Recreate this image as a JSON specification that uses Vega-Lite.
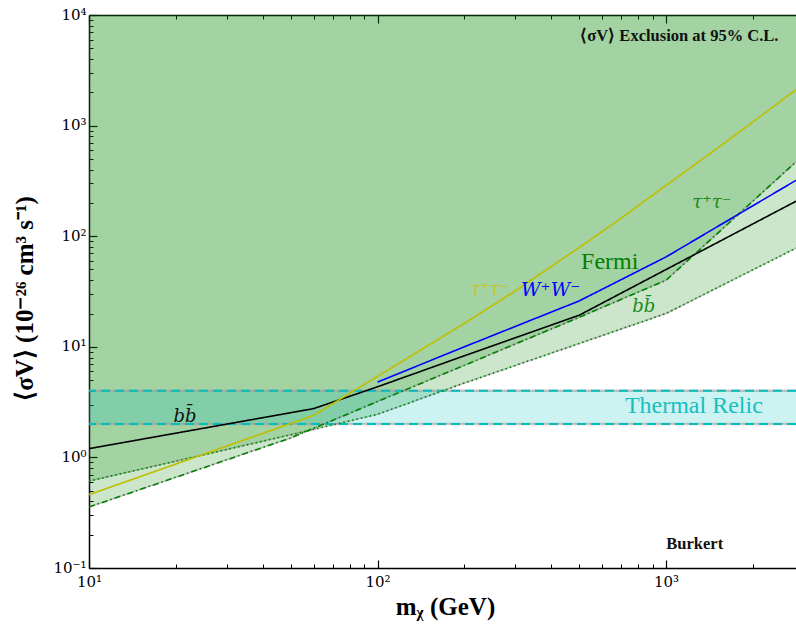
{
  "$schema": "https://vega.github.io/schema/vega-lite/v6.json",
  "width": 707,
  "height": 553,
  "autosize": {"type": "none"},
  "padding": {"left": 89, "top": 15, "right": 0, "bottom": 60},
  "background": "white",
  "config": {
    "view": {"stroke": null},
    "axis": {"grid": false, "labelFlush": false, "labelOverlap": false, "labelColor": "#000", "titleColor": "#000"}
  },
  "datasets": {
    "curves": [
      {"m": 10, "sv": 0.61, "curve": "fermi_bb"},
      {"m": 50, "sv": 1.6, "curve": "fermi_bb"},
      {"m": 100, "sv": 2.45, "curve": "fermi_bb"},
      {"m": 200, "sv": 4.7, "curve": "fermi_bb"},
      {"m": 500, "sv": 10.7, "curve": "fermi_bb"},
      {"m": 1000, "sv": 20, "curve": "fermi_bb"},
      {"m": 2820, "sv": 78, "curve": "fermi_bb"},
      {"m": 10, "sv": 0.356, "curve": "fermi_tt"},
      {"m": 50, "sv": 1.5, "curve": "fermi_tt"},
      {"m": 100, "sv": 3.2, "curve": "fermi_tt"},
      {"m": 200, "sv": 6.8, "curve": "fermi_tt"},
      {"m": 500, "sv": 18.5, "curve": "fermi_tt"},
      {"m": 1000, "sv": 40, "curve": "fermi_tt"},
      {"m": 2820, "sv": 470, "curve": "fermi_tt"},
      {"m": 10, "sv": 1.2, "curve": "bb"},
      {"m": 60, "sv": 2.76, "curve": "bb"},
      {"m": 100, "sv": 4.35, "curve": "bb"},
      {"m": 200, "sv": 8.3, "curve": "bb"},
      {"m": 500, "sv": 19.3, "curve": "bb"},
      {"m": 1000, "sv": 50, "curve": "bb"},
      {"m": 2820, "sv": 207, "curve": "bb"},
      {"m": 100, "sv": 4.8, "curve": "ww"},
      {"m": 200, "sv": 10, "curve": "ww"},
      {"m": 500, "sv": 26, "curve": "ww"},
      {"m": 1000, "sv": 65, "curve": "ww"},
      {"m": 2820, "sv": 320, "curve": "ww"},
      {"m": 10, "sv": 0.46, "curve": "tt"},
      {"m": 60, "sv": 2.4, "curve": "tt"},
      {"m": 100, "sv": 5.4, "curve": "tt"},
      {"m": 200, "sv": 16.3, "curve": "tt"},
      {"m": 300, "sv": 32, "curve": "tt"},
      {"m": 500, "sv": 79, "curve": "tt"},
      {"m": 700, "sv": 146, "curve": "tt"},
      {"m": 1000, "sv": 288, "curve": "tt"},
      {"m": 1500, "sv": 620, "curve": "tt"},
      {"m": 2000, "sv": 1080, "curve": "tt"},
      {"m": 2820, "sv": 2113, "curve": "tt"}
    ],
    "relic": [{"level": 2}, {"level": 4}]
  },
  "resolve": {"axis": {"x": "independent", "y": "independent"}},
  "layer": [
    {
      "data": {"name": "curves"},
      "transform": [{"filter": "datum.curve == 'fermi_bb'"}],
      "mark": {"type": "area", "color": "#008000", "opacity": 0.2, "clip": true,
               "line": {"color": "#808080", "opacity": 0.45, "strokeWidth": 1.5}},
      "encoding": {
        "x": {"field": "m", "type": "quantitative", "scale": {"type": "log", "domain": [10, 2820], "nice": false}, "axis": null},
        "y": {"field": "sv", "type": "quantitative", "scale": {"type": "log", "domain": [0.1, 10000], "nice": false}, "axis": null},
        "y2": {"datum": 10000}
      }
    },
    {
      "data": {"name": "curves"},
      "transform": [{"filter": "datum.curve == 'fermi_tt'"}],
      "mark": {"type": "area", "color": "#008000", "opacity": 0.2, "clip": true,
               "line": {"color": "#808080", "opacity": 0.45, "strokeWidth": 1.5}},
      "encoding": {
        "x": {"field": "m", "type": "quantitative", "axis": null},
        "y": {"field": "sv", "type": "quantitative", "axis": null},
        "y2": {"datum": 10000}
      }
    },
    {
      "data": {"values": [{"band": "relic"}]},
      "mark": {"type": "rect", "color": "#00bfbf", "opacity": 0.2},
      "encoding": {
        "x": {"datum": 10, "type": "quantitative", "axis": null},
        "x2": {"datum": 2820},
        "y": {"datum": 2, "type": "quantitative", "axis": null},
        "y2": {"datum": 4}
      }
    },
    {
      "data": {"name": "relic"},
      "mark": {"type": "rule", "color": "#9a9a9a", "opacity": 0.55, "strokeWidth": 2.5},
      "encoding": {"y": {"field": "level", "type": "quantitative", "axis": null}}
    },
    {
      "data": {"name": "relic"},
      "mark": {"type": "rule", "color": "#00bfbf", "strokeWidth": 2, "strokeDash": [9, 5]},
      "encoding": {"y": {"field": "level", "type": "quantitative", "axis": null}}
    },
    {
      "data": {"name": "curves"},
      "mark": {"type": "line", "strokeWidth": 1.6, "clip": true},
      "encoding": {
        "x": {"field": "m", "type": "quantitative", "axis": null},
        "y": {"field": "sv", "type": "quantitative", "axis": null},
        "detail": {"field": "curve"},
        "color": {"field": "curve", "type": "nominal", "legend": null,
                  "scale": {"domain": ["fermi_bb", "fermi_tt", "bb", "ww", "tt"], "range": ["#008000", "#008000", "#000000", "#0000ff", "#bfbf00"]}},
        "strokeDash": {"field": "curve", "type": "nominal", "legend": null,
                  "scale": {"domain": ["fermi_bb", "fermi_tt", "bb", "ww", "tt"], "range": [[1.5, 3], [6, 3, 1.5, 3], [1, 0], [1, 0], [1, 0]]}}
      }
    },
    {
      "data": {"values": [
        {"m": 1112, "sv": 6400, "label": "⟨σV⟩ Exclusion at 95% C.L."},
        {"m": 1257, "sv": 0.164, "label": "Burkert"}
      ]},
      "mark": {"type": "text", "font": "Liberation Serif", "fontSize": 16.5, "fontWeight": "bold", "color": "#111", "align": "center", "baseline": "middle"},
      "encoding": {
        "x": {"field": "m", "type": "quantitative", "axis": null},
        "y": {"field": "sv", "type": "quantitative", "axis": null},
        "text": {"field": "label"}
      }
    },
    {
      "data": {"values": [{"m": 1248, "sv": 2.9, "label": "Thermal Relic"}]},
      "mark": {"type": "text", "font": "Liberation Serif", "fontSize": 24, "color": "#17bfbf", "align": "center", "baseline": "middle"},
      "encoding": {
        "x": {"field": "m", "type": "quantitative", "axis": null},
        "y": {"field": "sv", "type": "quantitative", "axis": null},
        "text": {"field": "label"}
      }
    },
    {
      "data": {"values": [{"m": 638, "sv": 58, "label": "Fermi"}]},
      "mark": {"type": "text", "font": "Liberation Serif", "fontSize": 24, "color": "#008000", "align": "center", "baseline": "middle"},
      "encoding": {
        "x": {"field": "m", "type": "quantitative", "axis": null},
        "y": {"field": "sv", "type": "quantitative", "axis": null},
        "text": {"field": "label"}
      }
    },
    {
      "data": {"values": [
        {"m": 1439, "sv": 198, "label": "τ⁺τ⁻"},
        {"m": 837, "sv": 22.7, "label": "bb̄"}
      ]},
      "mark": {"type": "text", "font": "DejaVu Serif", "fontSize": 18, "fontStyle": "italic", "color": "#1a8a1a", "align": "center", "baseline": "middle"},
      "encoding": {
        "x": {"field": "m", "type": "quantitative", "axis": null},
        "y": {"field": "sv", "type": "quantitative", "axis": null},
        "text": {"field": "label"}
      }
    },
    {
      "data": {"values": [{"m": 398, "sv": 32.4, "label": "W⁺W⁻"}]},
      "mark": {"type": "text", "font": "DejaVu Serif", "fontSize": 19, "fontStyle": "italic", "color": "#0000ff", "align": "center", "baseline": "middle"},
      "encoding": {
        "x": {"field": "m", "type": "quantitative", "axis": null},
        "y": {"field": "sv", "type": "quantitative", "axis": null},
        "text": {"field": "label"}
      }
    },
    {
      "data": {"values": [{"m": 245, "sv": 32.4, "label": "τ⁺τ⁻"}]},
      "mark": {"type": "text", "font": "DejaVu Serif", "fontSize": 18, "fontStyle": "italic", "color": "#c6c62a", "align": "center", "baseline": "middle"},
      "encoding": {
        "x": {"field": "m", "type": "quantitative", "axis": null},
        "y": {"field": "sv", "type": "quantitative", "axis": null},
        "text": {"field": "label"}
      }
    },
    {
      "data": {"values": [{"m": 21.5, "sv": 2.3, "label": "bb̄"}]},
      "mark": {"type": "text", "font": "DejaVu Serif", "fontSize": 18, "fontStyle": "italic", "color": "#111", "align": "center", "baseline": "middle"},
      "encoding": {
        "x": {"field": "m", "type": "quantitative", "axis": null},
        "y": {"field": "sv", "type": "quantitative", "axis": null},
        "text": {"field": "label"}
      }
    },
    {
      "data": {"name": "curves"},
      "mark": {"type": "point", "opacity": 0},
      "encoding": {
        "x": {"field": "m", "type": "quantitative", "axis": {
          "orient": "bottom", "values": [10, 100, 1000], "ticks": false, "domain": true, "domainColor": "#000", "domainWidth": 1.5,
          "labelExpr": "datum.value < 50 ? '10¹' : datum.value < 500 ? '10²' : '10³'",
          "labelFont": "DejaVu Serif", "labelFontSize": 15, "labelPadding": 6,
          "title": "mᵪ (GeV)", "titleFont": "Liberation Serif", "titleFontSize": 25, "titleFontWeight": "bold", "titleX": 356, "titlePadding": 5}},
        "y": {"field": "sv", "type": "quantitative", "axis": {
          "orient": "left", "values": [0.1, 1, 10, 100, 1000, 10000], "ticks": false, "domain": true, "domainColor": "#000", "domainWidth": 1.5,
          "labelExpr": "datum.value < 0.5 ? '10⁻¹' : datum.value < 5 ? '10⁰' : datum.value < 50 ? '10¹' : datum.value < 500 ? '10²' : datum.value < 5000 ? '10³' : '10⁴'",
          "labelFont": "DejaVu Serif", "labelFontSize": 15, "labelPadding": 3, "labelBaseline": "bottom", "labelOffset": 7,
          "title": "⟨σV⟩ (10⁻²⁶ cm³ s⁻¹)", "titleFont": "Liberation Serif", "titleFontSize": 25, "titleFontWeight": "bold", "titlePadding": 15, "titleY": 283}}
      }
    },
    {
      "data": {"name": "curves"},
      "mark": {"type": "point", "opacity": 0},
      "encoding": {
        "x": {"field": "m", "type": "quantitative", "axis": {
          "orient": "bottom", "values": [10, 100, 1000], "tickSize": -8, "tickWidth": 1.2, "tickColor": "#000", "labels": false, "domain": false, "title": null}},
        "y": {"field": "sv", "type": "quantitative", "axis": {
          "orient": "left", "values": [0.1, 1, 10, 100, 1000, 10000], "tickSize": -8, "tickWidth": 1.2, "tickColor": "#000", "labels": false, "domain": false, "title": null}}
      }
    },
    {
      "data": {"name": "curves"},
      "mark": {"type": "point", "opacity": 0},
      "encoding": {
        "x": {"field": "m", "type": "quantitative", "axis": {
          "orient": "bottom", "values": [20, 30, 40, 50, 60, 70, 80, 90, 200, 300, 400, 500, 600, 700, 800, 900, 2000], "tickSize": -4, "tickWidth": 1, "tickColor": "#000", "labels": false, "domain": false, "title": null}},
        "y": {"field": "sv", "type": "quantitative", "axis": {
          "orient": "left", "values": [0.2, 0.3, 0.4, 0.5, 0.6, 0.7, 0.8, 0.9, 2, 3, 4, 5, 6, 7, 8, 9, 20, 30, 40, 50, 60, 70, 80, 90, 200, 300, 400, 500, 600, 700, 800, 900, 2000, 3000, 4000, 5000, 6000, 7000, 8000, 9000], "tickSize": -4, "tickWidth": 1, "tickColor": "#000", "labels": false, "domain": false, "title": null}}
      }
    },
    {
      "data": {"name": "curves"},
      "mark": {"type": "point", "opacity": 0},
      "encoding": {
        "x": {"field": "m", "type": "quantitative", "axis": {
          "orient": "top", "values": [10, 100, 1000], "tickSize": -8, "tickWidth": 1.2, "tickColor": "#000", "labels": false, "domain": true, "domainColor": "#000", "domainWidth": 1.5, "title": null}},
        "y": {"field": "sv", "type": "quantitative", "axis": null}
      }
    },
    {
      "data": {"name": "curves"},
      "mark": {"type": "point", "opacity": 0},
      "encoding": {
        "x": {"field": "m", "type": "quantitative", "axis": {
          "orient": "top", "values": [20, 30, 40, 50, 60, 70, 80, 90, 200, 300, 400, 500, 600, 700, 800, 900, 2000], "tickSize": -4, "tickWidth": 1, "tickColor": "#000", "labels": false, "domain": false, "title": null}},
        "y": {"field": "sv", "type": "quantitative", "axis": null}
      }
    }
  ]
}
